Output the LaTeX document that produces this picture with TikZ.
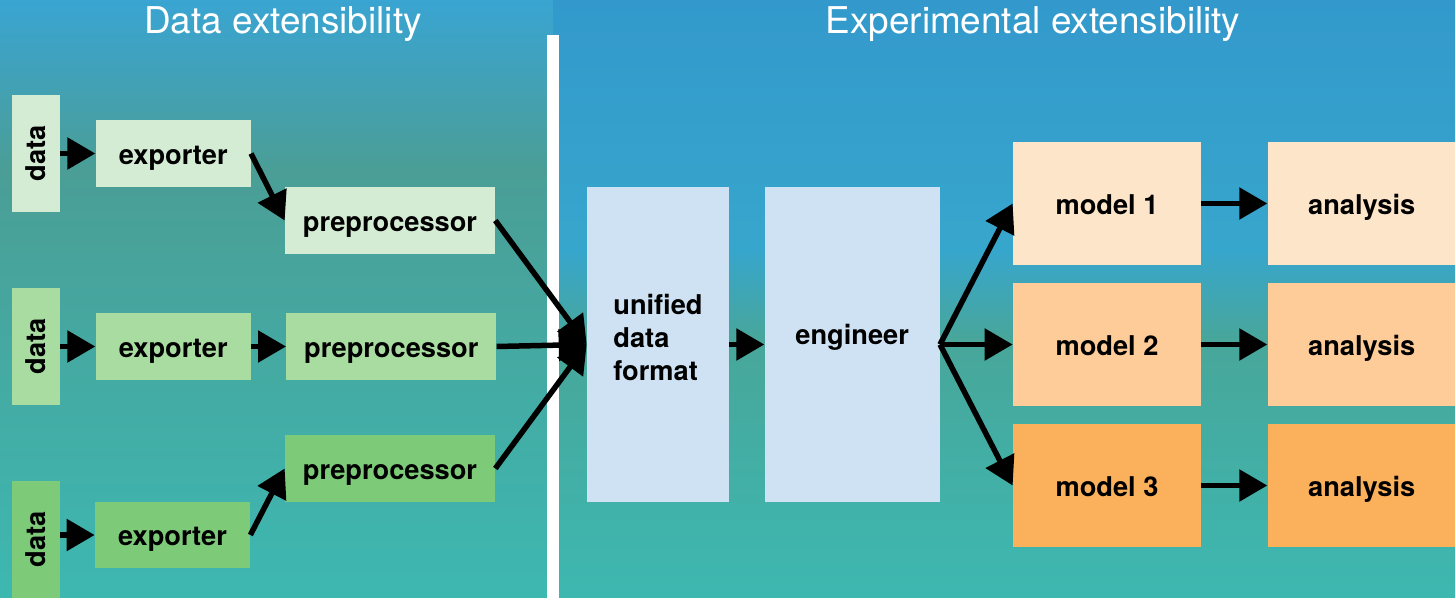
\documentclass[tikz,border=0pt]{standalone}
\usepackage{fontspec}
\usepackage{graphicx}
\setmainfont{TeX Gyre Heros}
\usetikzlibrary{arrows.meta,positioning}

\definecolor{greenA}{HTML}{D4ECD3}
\definecolor{greenB}{HTML}{A9DCA1}
\definecolor{greenC}{HTML}{7DCA78}
\definecolor{blueA}{HTML}{CFE2F3}
\definecolor{orangeA}{HTML}{FDE5C9}
\definecolor{orangeB}{HTML}{FDCC98}
\definecolor{orangeC}{HTML}{FBB05C}
\definecolor{bgblue}{HTML}{3AA4D2}
\definecolor{bgteal}{HTML}{4A9E96}
\definecolor{bgaqua}{HTML}{3DB8B1}
\definecolor{bgblueR}{HTML}{3399CC}
\definecolor{bgmidR}{HTML}{37A6CC}
\definecolor{bgtealR}{HTML}{48A69A}

\tikzset{
	box/.style={inner sep=0pt, text=black, font=\fontsize{15.5}{18.7}\selectfont\bfseries},
	lbl/.style={box, text height=12.5pt, text depth=0pt},
	datbox/.style={box, minimum width=0.96cm, minimum height=2.34cm},
	expbox/.style={lbl, minimum width=3.1cm, minimum height=1.34cm},
	prebox/.style={lbl, minimum width=4.2cm, minimum height=1.34cm},
	tallbox/.style={box, minimum height=6.3cm},
	modbox/.style={lbl, minimum width=3.76cm, minimum height=2.46cm},
	flow/.style={line width=0.11cm, -{Triangle[length=0.56cm,width=0.62cm]}},
	title/.style={text=white, font=\fontsize{21}{25}\selectfont},
}

\begin{document}
\begin{tikzpicture}[x=0.02cm, y=-0.02cm]
	\useasboundingbox (0,0) rectangle (1455,598);
	\shade[top color=bgblue, bottom color=bgteal] (0,0) rectangle (553,170);
	\shade[top color=bgteal, bottom color=bgaqua] (0,170) rectangle (553,598);
	\shade[top color=bgblueR, bottom color=bgmidR] (553,0) rectangle (1455,250);
	\shade[top color=bgmidR, bottom color=bgtealR] (553,250) rectangle (1455,340);
	\shade[top color=bgtealR, bottom color=bgaqua] (553,340) rectangle (1455,598);
	\fill[white] (547,35) rectangle (559,598);
	
	\node[title] (t1) at (283,24) {Data extensibility};
	\node[title] (t2) at (1033,24) {Experimental extensibility};
	
	\node[datbox, fill=greenA] (d1) at (36,153.5) {\rotatebox{90}{data}};
	\node[datbox, fill=greenB] (d2) at (36,346.5) {\rotatebox{90}{data}};
	\node[datbox, fill=greenC] (d3) at (36,539.5) {\rotatebox{90}{data}};
	
	\node[expbox, fill=greenA, right=0.7cm of d1] (e1) {exporter};
	\node[expbox, fill=greenB, right=0.7cm of d2] (e2) {exporter};
	\node[expbox, fill=greenC] (e3) at (172.5,535) {exporter};
	
	\node[prebox, fill=greenA] (p1) at (390,220.5) {preprocessor};
	\node[prebox, fill=greenB, right=0.7cm of e2] (p2) {preprocessor};
	\node[prebox, fill=greenC] (p3) at (390,468.5) {preprocessor};
	
	\node[tallbox, minimum width=2.84cm, fill=blueA, align=left, text depth=8pt] (u) at (658,344.5) {unified\\data\\format};
	\node[tallbox, minimum width=3.5cm, fill=blueA, text height=11pt, text depth=11pt, right=0.7cm of u] (g) {engineer};
	
	\node[modbox, fill=orangeA] (m1) at (1107,203.5) {model 1};
	\node[modbox, fill=orangeB] (m2) at (1107,344.5) {model 2};
	\node[modbox, fill=orangeC] (m3) at (1107,485.5) {model 3};
	
	\node[modbox, fill=orangeA, right=1.32cm of m1] (a1) {analysis};
	\node[modbox, fill=orangeB, right=1.32cm of m2] (a2) {analysis};
	\node[modbox, fill=orangeC, right=1.32cm of m3] (a3) {analysis};
	
	\draw[flow] (d1) -- (e1);
	\draw[flow] (d2) -- (e2);
	\draw[flow] (d3.east |- e3) -- (e3);
	\draw[flow] (e1.east) -- (p1.west);
	\draw[flow] (e2) -- (p2);
	\draw[flow] (e3.east) -- (p3.west);
	\draw[flow] (p1.east) -- (u.west);
	\draw[flow] (p2.east) -- (u.west);
	\draw[flow] (p3.east) -- (u.west);
	\draw[flow] (u) -- (g);
	\draw[flow] (g.east) -- (m1.west);
	\draw[flow] (g.east) -- (m2.west);
	\draw[flow] (g.east) -- (m3.west);
	\draw[flow] (m1) -- (a1);
	\draw[flow] (m2) -- (a2);
	\draw[flow] (m3) -- (a3);
\end{tikzpicture}
\end{document}
